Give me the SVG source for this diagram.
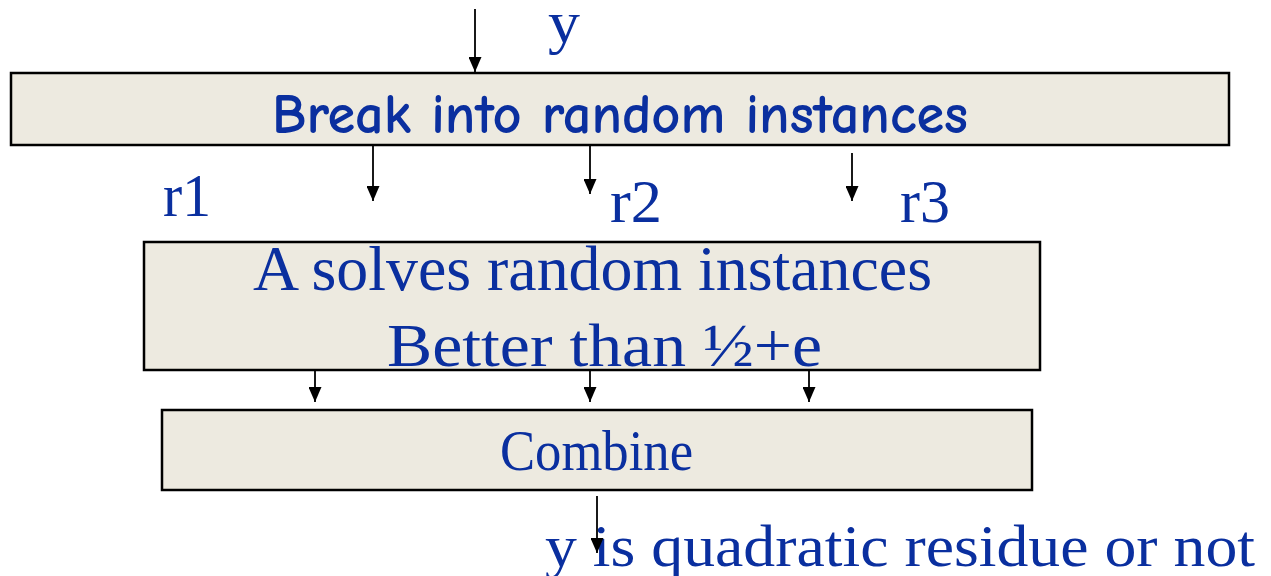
<svg xmlns="http://www.w3.org/2000/svg" width="1271" height="576" viewBox="0 0 1271 576">
  <style>
    .box { fill: #edeae0; stroke: #000; stroke-width: 2.5; }
    .serif { font-family: "Liberation Serif", "Times New Roman", serif; fill: #0a2f9f; }
    .hand { font-family: "Comic Neue", "DejaVu Sans", "Liberation Sans", sans-serif; font-weight: bold; fill: #0a2f9f; }
    .wire { stroke: #000; stroke-width: 1.8; fill: none; marker-end: url(#head); }
  </style>
  <defs>
    <!-- solid triangular arrowhead, tip at the line end -->
    <marker id="head" markerWidth="15" markerHeight="13" refX="15" refY="6.5" orient="auto" markerUnits="userSpaceOnUse" viewBox="0 0 15 13">
      <path d="M0,0 L15,6.5 L0,13 Z" fill="#000"/>
    </marker>
  </defs>

  <!-- Stage 1: split input into random instances -->
  <g id="break">
    <rect class="box" x="11" y="73" width="1218" height="72"/>
    <text class="hand" x="272" y="133" font-size="56" textLength="696" lengthAdjust="spacingAndGlyphs">Break into random instances</text>
  </g>

  <!-- Stage 2: the solver A -->
  <g id="solver">
    <rect class="box" x="144" y="242" width="896" height="128"/>
    <text class="serif" x="253" y="290" font-size="63" textLength="679" lengthAdjust="spacingAndGlyphs">A solves random instances</text>
    <text class="serif" x="387" y="366" font-size="61" textLength="435" lengthAdjust="spacingAndGlyphs">Better than ½+e</text>
  </g>

  <!-- Stage 3: combine the answers -->
  <g id="combine">
    <rect class="box" x="162" y="410" width="870" height="80"/>
    <text class="serif" x="500" y="470" font-size="56" textLength="193" lengthAdjust="spacingAndGlyphs">Combine</text>
  </g>

  <!-- Labels -->
  <g id="labels">
    <text class="serif" x="548" y="42" font-size="60" textLength="32" lengthAdjust="spacingAndGlyphs">y</text>
    <text class="serif" x="163" y="216" font-size="62" textLength="48" lengthAdjust="spacingAndGlyphs">r1</text>
    <text class="serif" x="610" y="222" font-size="62" textLength="52" lengthAdjust="spacingAndGlyphs">r2</text>
    <text class="serif" x="900" y="222" font-size="62" textLength="50" lengthAdjust="spacingAndGlyphs">r3</text>
    <text class="serif" x="545" y="566" font-size="60" textLength="710" lengthAdjust="spacingAndGlyphs">y is quadratic residue or not</text>
  </g>

  <!-- Connectors -->
  <g id="connectors">
    <line class="wire" x1="475" y1="9" x2="475" y2="72"/>
    <line class="wire" x1="373" y1="146" x2="373" y2="201"/>
    <line class="wire" x1="590" y1="146" x2="590" y2="194"/>
    <line class="wire" x1="852" y1="153" x2="852" y2="201"/>
    <line class="wire" x1="315" y1="371" x2="315" y2="402"/>
    <line class="wire" x1="590" y1="371" x2="590" y2="402"/>
    <line class="wire" x1="809" y1="371" x2="809" y2="402"/>
    <line class="wire" x1="597" y1="496" x2="597" y2="553"/>
  </g>
</svg>
